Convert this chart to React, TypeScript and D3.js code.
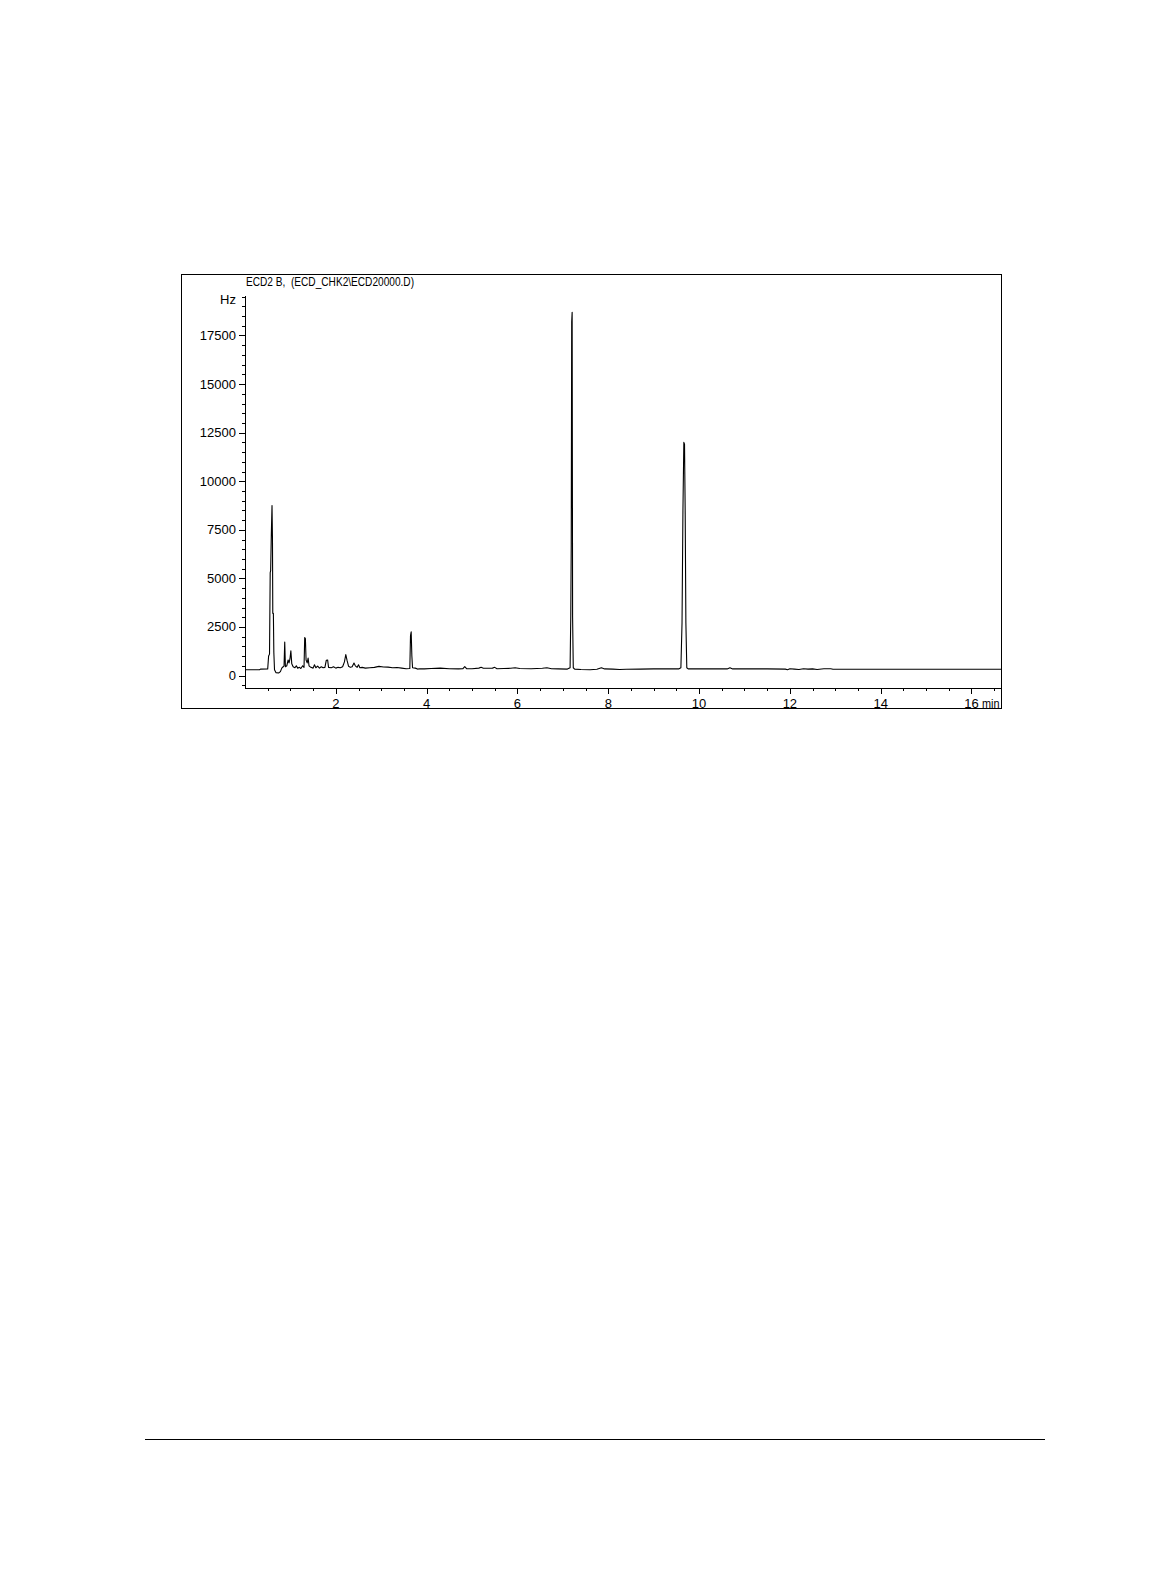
import React from 'react';
import * as d3 from 'd3';

// 크로마토그램 신호 (분, Hz) - 그림에서 읽은 꼭짓점들
const retentionTimes = [
  0.0, 0.32, 0.34, 0.5, 0.52, 0.54, 0.555, 0.565, 0.58, 0.595, 0.605, 0.612, 0.625, 0.635, 0.65, 0.68, 0.74, 0.78,
  0.81, 0.84, 0.86, 0.875, 0.89, 0.92, 0.95, 0.97, 0.99, 1.01, 1.03, 1.06, 1.1, 1.13, 1.16, 1.2, 1.23, 1.27, 1.3,
  1.315, 1.33, 1.345, 1.37, 1.39, 1.41, 1.45, 1.5, 1.53, 1.56, 1.6, 1.64, 1.68, 1.72, 1.76, 1.79, 1.82, 1.84, 1.9,
  1.95, 2.0, 2.05, 2.1, 2.15, 2.19, 2.22, 2.25, 2.28, 2.32, 2.36, 2.4, 2.43, 2.47, 2.5, 2.53, 2.58, 2.65, 2.75, 2.85,
  2.95, 3.05, 3.15, 3.25, 3.35, 3.45, 3.55, 3.63, 3.645, 3.66, 3.675, 3.69, 3.75, 3.8, 3.85, 3.95, 4.1, 4.3, 4.5,
  4.7, 4.8, 4.84, 4.88, 5.0, 5.15, 5.2, 5.25, 5.45, 5.5, 5.55, 5.7, 5.85, 5.95, 6.05, 6.3, 6.55, 6.65, 6.75, 6.9,
  7.1, 7.16, 7.175, 7.185, 7.195, 7.205, 7.215, 7.23, 7.26, 7.4, 7.6, 7.75, 7.85, 7.92, 8.1, 8.25, 8.4, 8.7, 9.0,
  9.3, 9.55, 9.6, 9.625, 9.645, 9.665, 9.68, 9.695, 9.71, 9.73, 9.76, 10.0, 10.4, 10.62, 10.68, 10.74, 11.0, 11.5,
  11.9, 11.95, 12.0, 12.1, 12.2, 12.3, 12.4, 12.5, 12.6, 12.75, 12.9, 12.95, 14.0, 16.65,
];

const signalHz = [
  300, 300, 330, 340, 1000, 1100, 5300, 5400, 7300, 8750, 7000, 3200, 3200, 1200, 300, 150, 130, 200,
  380, 450, 500, 1720, 450, 500, 800, 650, 850, 1270, 600, 450, 400, 500, 380, 420, 360, 500, 420,
  1950, 1900, 800, 650, 900, 500, 420, 380, 550, 400, 480, 380, 450, 400, 420, 780, 800, 420, 400,
  450, 380, 420, 400, 450, 700, 1080, 750, 480, 420, 450, 640, 500, 420, 550, 400, 420, 380, 400, 420,
  470, 440, 430, 400, 410, 380, 350, 360, 2050, 2250, 1000, 400, 380, 330, 350, 340, 360, 380, 350,
  340, 350, 460, 350, 350, 380, 420, 370, 380, 420, 350, 360, 370, 400, 360, 350, 370, 400, 350, 340,
  330, 400, 3100, 6800, 18200, 18700, 3000, 400, 330, 310, 300, 320, 400, 340, 330, 310, 320, 330, 340,
  340, 340, 400, 2700, 8500, 12000, 11900, 8300, 2700, 400, 340, 340, 340, 340, 400, 340, 340, 340,
  330, 300, 350, 330, 310, 350, 330, 340, 310, 350, 350, 320, 320, 320,
];

// 축 눈금
const yTickValues = [0, 2500, 5000, 7500, 10000, 12500, 15000, 17500];
const xTickValues = [2, 4, 6, 8, 10, 12, 14, 16];

const titleText = 'ECD2 B,  (ECD_CHK2\\ECD20000.D)';
const yUnit = 'Hz';
const xUnit = 'min';

export default function App() {
  const width = 1150;
  const height = 1584;

  // 플롯 영역
  const frame = { left: 181, top: 274, right: 1001, bottom: 708 };
  const axisX = 245; // y축 위치
  const axisY = 688; // x축 위치
  const axisTop = 296;

  const x = d3.scaleLinear().domain([0, 16.65]).range([axisX, frame.right]);
  const y = d3.scaleLinear().domain([-643, 19533]).range([axisY, axisTop]);

  const points = retentionTimes.map((t, i) => [t, signalHz[i]] as [number, number]);
  const line = d3
    .line<[number, number]>()
    .x((d) => x(d[0]))
    .y((d) => y(d[1]));

  // 보조 눈금
  const yMinor = d3.range(-500, 19501, 500).filter((v) => v % 2500 !== 0);
  const xMinor = d3.range(0.5, 16.6, 0.5).filter((v) => v % 2 !== 0);

  const font = "'Liberation Sans', Arial, sans-serif";

  return (
    <svg
      width={width}
      height={height}
      style={{ position: 'absolute', left: 0, top: 0, background: '#fff' }}
      fontFamily={font}>
      {/* 바깥 테두리 */}
      <rect
        x={frame.left + 0.5}
        y={frame.top + 0.5}
        width={frame.right - frame.left}
        height={frame.bottom - frame.top}
        fill="none"
        stroke="#000"
        strokeWidth={1}
      />

      {/* 제목 */}
      <text
        x={axisX + 1}
        y={283}
        dominantBaseline="middle"
        fontSize={12}
        fill="#000"
        textLength={168}
        lengthAdjust="spacingAndGlyphs"
        style={{ whiteSpace: 'pre' }}>
        {titleText}
      </text>

      {/* y축 */}
      <line x1={axisX + 0.5} x2={axisX + 0.5} y1={axisTop} y2={axisY + 0.5} stroke="#000" />
      {yTickValues.map((v) => (
        <g key={`yt-${v}`}>
          <line x1={axisX - 6} x2={axisX} y1={Math.round(y(v)) + 0.5} y2={Math.round(y(v)) + 0.5} stroke="#000" />
          <text x={axisX - 9} y={y(v) + 1} textAnchor="end" dominantBaseline="middle" fontSize={13} fill="#000">
            {v}
          </text>
        </g>
      ))}
      {yMinor.map((v) => (
        <line
          key={`ym-${v}`}
          x1={axisX - 3}
          x2={axisX}
          y1={Math.round(y(v)) + 0.5}
          y2={Math.round(y(v)) + 0.5}
          stroke="#000"
        />
      ))}
      <text x={axisX - 9} y={301} textAnchor="end" dominantBaseline="middle" fontSize={13} fill="#000">
        {yUnit}
      </text>

      {/* x축 */}
      <line x1={axisX} x2={frame.right} y1={axisY + 0.5} y2={axisY + 0.5} stroke="#000" />
      {xTickValues.map((v) => (
        <g key={`xt-${v}`}>
          <line x1={Math.round(x(v)) + 0.5} x2={Math.round(x(v)) + 0.5} y1={axisY} y2={axisY + 6} stroke="#000" />
          <text x={x(v)} y={705} textAnchor="middle" dominantBaseline="middle" fontSize={13} fill="#000">
            {v}
          </text>
        </g>
      ))}
      {xMinor.map((v) => (
        <line
          key={`xm-${v}`}
          x1={Math.round(x(v)) + 0.5}
          x2={Math.round(x(v)) + 0.5}
          y1={axisY}
          y2={axisY + 3}
          stroke="#000"
        />
      ))}
      <text
        x={frame.right - 19}
        y={705}
        dominantBaseline="middle"
        fontSize={13}
        fill="#000"
        textLength={17.5}
        lengthAdjust="spacingAndGlyphs">
        {xUnit}
      </text>

      {/* 신호 */}
      <path d={line(points) as string} fill="none" stroke="#000" strokeWidth={1.1} strokeLinejoin="round" />

      {/* 하단 구분선 */}
      <line x1={145} x2={1045} y1={1439.5} y2={1439.5} stroke="#000" strokeWidth={1} />
    </svg>
  );
}
